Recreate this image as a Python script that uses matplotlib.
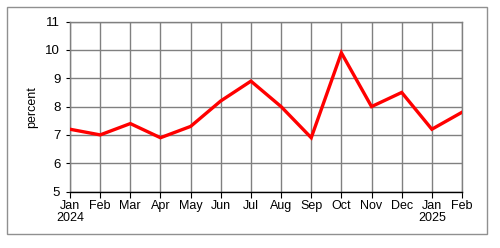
import matplotlib
matplotlib.use("Agg")
import matplotlib.pyplot as plt
from matplotlib.patches import Rectangle

plt.rcParams['font.family'] = ['Liberation Sans', 'DejaVu Sans']

months = ["Jan\n2024", "Feb", "Mar", "Apr", "May", "Jun", "Jul", "Aug",
          "Sep", "Oct", "Nov", "Dec", "Jan\n2025", "Feb"]
values = [7.2, 7.0, 7.4, 6.9, 7.3, 8.2, 8.9, 8.0, 6.9, 9.9, 8.0, 8.5, 7.2, 7.8]
yticks = [5, 6, 7, 8, 9, 10, 11]

fig = plt.figure(figsize=(5.0, 2.48), dpi=100)
ax = fig.add_axes([70/500, 1 - 191.5/248, 392/500, 169.8/248])

x = list(range(len(values)))
ax.plot(x, values, color='#ff0000', lw=2.4, solid_joinstyle='miter', zorder=3)

ax.set_xlim(0, len(values) - 1)
ax.set_ylim(5, 11)
ax.set_xticks(x)
ax.set_xticklabels(months, fontsize=9, linespacing=1.0)
for lab in ax.get_xticklabels():
    lab.set_horizontalalignment('center')
ax.set_yticks(yticks)
ax.set_yticklabels([str(v) for v in yticks], fontsize=9.5)
ax.set_ylabel("percent", fontsize=9, labelpad=5)

ax.grid(True, color='#808080', lw=1)
ax.set_axisbelow(True)
for s in ['top', 'right', 'left']:
    ax.spines[s].set_color('#808080')
    ax.spines[s].set_linewidth(1)
ax.spines['bottom'].set_color('black')
ax.spines['bottom'].set_linewidth(1)
ax.tick_params(axis='x', direction='out', length=4, color='black', pad=2)
ax.tick_params(axis='y', direction='out', length=3, color='black', pad=4)

fig.patches.append(Rectangle((7/500, 1 - 234/248), 480/500, 227/248,
                             transform=fig.transFigure, fill=False,
                             edgecolor='#909090', lw=1))

fig.savefig("out.png", dpi=100)
